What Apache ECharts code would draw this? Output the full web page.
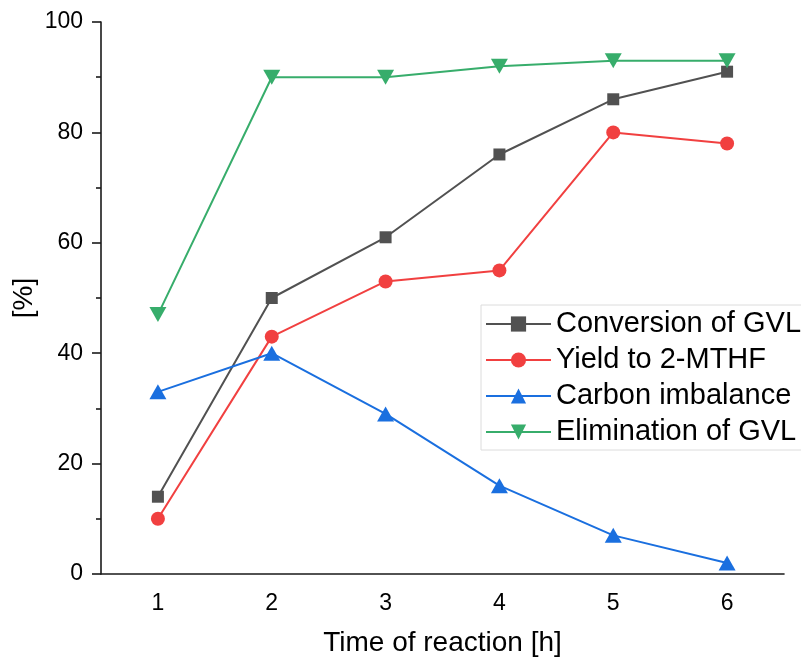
<!DOCTYPE html>
<html>
<head>
<meta charset="utf-8">
<script src="https://cdn.jsdelivr.net/npm/echarts@6/dist/echarts.min.js"></script>
<style>
  html, body { margin: 0; padding: 0; background: #fff; }
  #chart { width: 801px; height: 658px; }
</style>
</head>
<body>
<div id="chart"></div>
<script>
// reaction time (h)
var hours = ['1', '2', '3', '4', '5', '6'];

var conversion = [14, 50, 61, 76, 86, 91];
var yieldMthf = [10, 43, 53, 55, 80, 78];
var carbonImbalance = [33, 40, 29, 16, 7, 2];
var elimination = [47, 90, 90, 92, 93, 93];

var FONT = 'Liberation Sans, Arial, sans-serif';
var AXIS = '#1a1a1a';

var chart = echarts.init(document.getElementById('chart'));

var option = {
  backgroundColor: '#fff',
  animation: false,
  textStyle: { fontFamily: FONT },
  grid: { left: 101, top: 22, right: 17, bottom: 84, outerBoundsMode: 'none' },
  legend: {
    left: 481,
    top: 305,
    orient: 'vertical',
    itemWidth: 65,
    itemHeight: 19,
    itemGap: 6,
    padding: [4, 40, 3, 4],
    borderColor: '#dcdcdc',
    borderWidth: 1,
    textStyle: { fontSize: 29, lineHeight: 30, color: '#000', fontFamily: FONT },
    data: ['Conversion of GVL', 'Yield to 2-MTHF', 'Carbon imbalance', 'Elimination of GVL']
  },
  xAxis: [
    {
      type: 'category',
      data: hours,
      boundaryGap: true,
      name: 'Time of reaction [h]',
      nameLocation: 'middle',
      nameGap: 55,
      nameTextStyle: { fontSize: 28, color: '#000', fontFamily: FONT },
      axisLine: { lineStyle: { color: AXIS, width: 1.6 } },
      axisTick: { alignWithLabel: true, length: 10, lineStyle: { color: AXIS, width: 1.6 } },
      axisLabel: { fontSize: 23, color: '#000', margin: 18, fontFamily: FONT },
      splitLine: { show: false }
    },
    {
      // half-step minor ticks
      type: 'category',
      data: hours,
      boundaryGap: true,
      position: 'bottom',
      axisLine: { show: false },
      axisTick: { length: 6, lineStyle: { color: AXIS, width: 1.6 } },
      axisLabel: { show: false },
      splitLine: { show: false }
    }
  ],
  yAxis: {
    type: 'value',
    min: 0,
    max: 100,
    interval: 20,
    name: '[%]',
    nameLocation: 'middle',
    nameGap: 63,
    nameMoveOverlap: false,
    nameTextStyle: { fontSize: 28, color: '#000', fontFamily: FONT },
    axisLine: { show: true, lineStyle: { color: AXIS, width: 1.6 } },
    axisTick: { show: true, length: 9, lineStyle: { color: AXIS, width: 1.6 } },
    minorTick: { show: true, splitNumber: 2, length: 5, lineStyle: { color: AXIS, width: 1.6 } },
    axisLabel: { fontSize: 23, color: '#000', margin: 18, fontFamily: FONT },
    splitLine: { show: false }
  },
  series: [
    {
      name: 'Conversion of GVL',
      type: 'line',
      data: conversion,
      symbol: 'rect',
      symbolSize: 12,
      color: '#515151',
      lineStyle: { width: 2 }
    },
    {
      name: 'Yield to 2-MTHF',
      type: 'line',
      data: yieldMthf,
      symbol: 'circle',
      symbolSize: 14,
      color: '#F14040',
      lineStyle: { width: 2 }
    },
    {
      name: 'Carbon imbalance',
      type: 'line',
      data: carbonImbalance,
      symbol: 'triangle',
      symbolSize: [17, 15],
      color: '#1A6FDF',
      lineStyle: { width: 2 }
    },
    {
      name: 'Elimination of GVL',
      type: 'line',
      data: elimination,
      symbol: 'triangle',
      symbolRotate: 180,
      symbolSize: [17, 15],
      color: '#37AD6B',
      lineStyle: { width: 2 }
    }
  ]
};

chart.setOption(option);
</script>
</body>
</html>
